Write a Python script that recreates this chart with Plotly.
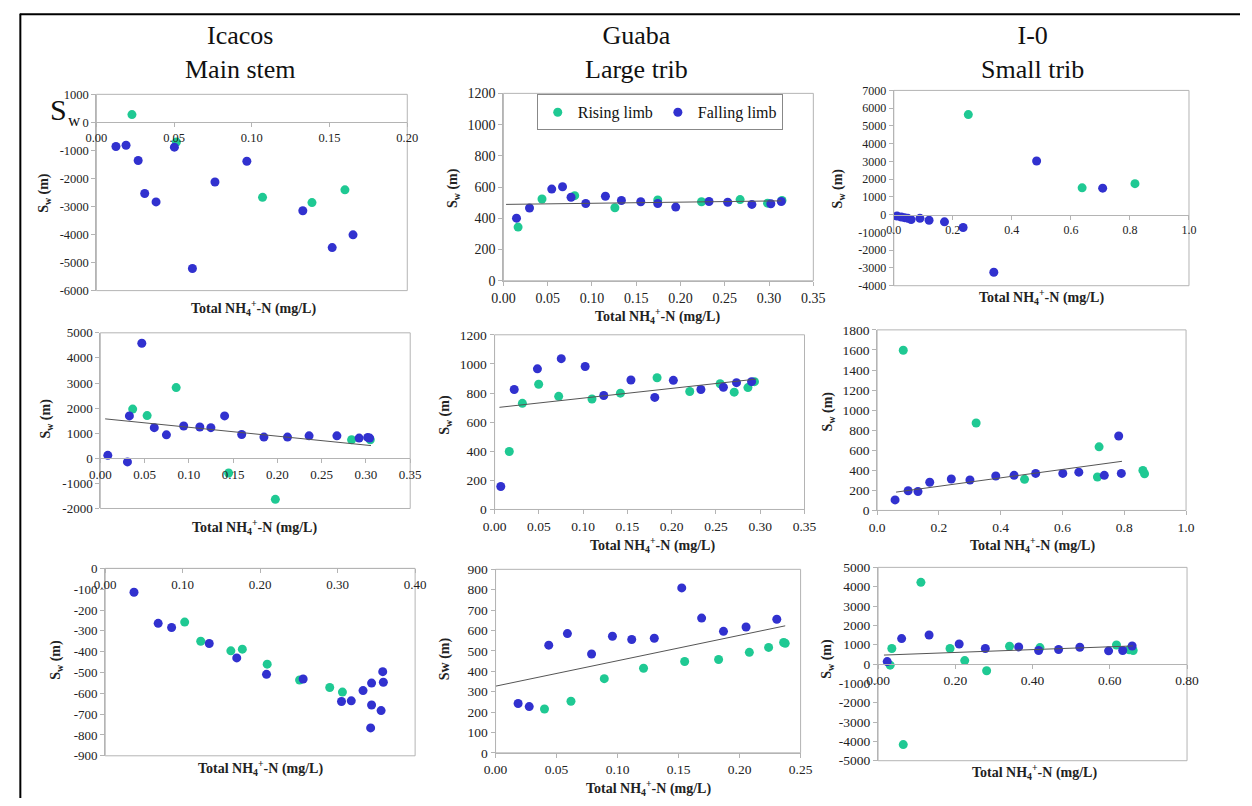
import plotly.graph_objects as go

W, H = 1252, 806

# ---------------- DATA ----------------
# Panel 1: Icacos main stem (row 1)
p1_rise_x = [0.0229, 0.0515, 0.1069, 0.1387, 0.1599]
p1_rise_y = [279, -698, -2674, -2860, -2407]
p1_fall_x = [0.0126, 0.0191, 0.0269, 0.0311, 0.0384, 0.0502, 0.0618, 0.0763, 0.0968, 0.1328, 0.1517, 0.1651]
p1_fall_y = [-860, -814, -1360, -2535, -2837, -884, -5209, -2128, -1384, -3151, -4465, -4012]

# Panel 2: Guaba large trib (row 1)
p2_rise_x = [0.0166, 0.0436, 0.0805, 0.1259, 0.1743, 0.2237, 0.2673, 0.2983, 0.3146]
p2_rise_y = [344, 524, 545, 468, 518, 506, 520, 497, 514]
p2_fall_x = [0.0148, 0.0295, 0.0546, 0.0668, 0.0764, 0.0930, 0.1152, 0.1333, 0.1551, 0.1743, 0.1946, 0.2322, 0.2533, 0.2806, 0.3020, 0.3138]
p2_fall_y = [401, 466, 587, 602, 535, 495, 541, 514, 506, 495, 472, 508, 503, 489, 493, 508]
p2_trend = (489, 73, 0.003, 0.314)  # intercept, slope, x start, x end

# Panel 3: I-0 small trib (row 1)
p3_rise_x = [0.2525, 0.638, 0.817]
p3_rise_y = [5638, 1511, 1750]
p3_fall_x = [0.011, 0.0256, 0.0365, 0.0475, 0.0588, 0.0887, 0.1196, 0.1718, 0.2349, 0.3389, 0.4839, 0.7076]
p3_fall_y = [-72, -127, -166, -204, -276, -204, -315, -403, -719, -3243, 3022, 1493]

# Panel 4: Icacos main stem (row 2)
p4_rise_x = [0.0366, 0.0529, 0.0857, 0.1449, 0.1977, 0.2838, 0.3049]
p4_rise_y = [1961, 1701, 2818, -584, -1636, 740, 740]
p4_fall_x = [0.0085, 0.0307, 0.0329, 0.0469, 0.0610, 0.0747, 0.0942, 0.1124, 0.1249, 0.1404, 0.1597, 0.1848, 0.2114, 0.2358, 0.2672, 0.2923, 0.3020, 0.3042]
p4_fall_y = [117, -143, 1688, 4584, 1221, 935, 1286, 1247, 1221, 1688, 948, 844, 844, 896, 896, 805, 831, 805]
p4_trend = (1591, -3548, 0.0055, 0.3057)

# Panel 5: Guaba large trib (row 2)
p5_rise_x = [0.0166, 0.0314, 0.0498, 0.0724, 0.1100, 0.1421, 0.1835, 0.2204, 0.2547, 0.2706, 0.2861, 0.2935]
p5_rise_y = [398, 729, 860, 777, 759, 799, 905, 810, 864, 806, 837, 878]
p5_fall_x = [0.0070, 0.0222, 0.0484, 0.0753, 0.1023, 0.1233, 0.1540, 0.1809, 0.2019, 0.2330, 0.2584, 0.2732, 0.2902]
p5_fall_y = [158, 824, 966, 1036, 982, 783, 889, 770, 887, 824, 840, 871, 878]
p5_trend = (698, 669, 0.0055, 0.2954)

# Panel 6: I-0 small trib (row 2)
p6_rise_x = [0.0847, 0.3206, 0.4772, 0.7185, 0.7132, 0.8603, 0.8656]
p6_rise_y = [1597, 872, 310, 634, 333, 399, 366]
p6_fall_x = [0.0582, 0.1005, 0.1323, 0.1704, 0.2402, 0.3005, 0.3841, 0.4434, 0.5132, 0.6011, 0.6529, 0.7354, 0.7820, 0.7905]
p6_fall_y = [105, 196, 189, 281, 314, 304, 343, 350, 369, 369, 382, 350, 742, 369]
p6_trend = (157, 420, 0.0614, 0.7926)

# Panel 7: Icacos main stem (row 3)
p7_rise_x = [0.1026, 0.1233, 0.1622, 0.1770, 0.2091, 0.2509, 0.2898, 0.3062]
p7_rise_y = [-258, -350, -396, -388, -460, -536, -572, -594]
p7_fall_x = [0.0372, 0.0684, 0.0857, 0.1343, 0.1698, 0.2082, 0.2555, 0.3050, 0.3176, 0.3328, 0.3438, 0.3438, 0.3426, 0.3561, 0.3582, 0.3590]
p7_fall_y = [-115, -264, -284, -361, -430, -509, -531, -639, -636, -587, -551, -656, -766, -683, -496, -547]

# Panel 8: Guaba large trib (row 3)
p8_rise_x = [0.0401, 0.0618, 0.0891, 0.1213, 0.1550, 0.1828, 0.2080, 0.2238, 0.2361, 0.2374]
p8_rise_y = [215, 253, 364, 415, 448, 458, 493, 517, 541, 537]
p8_fall_x = [0.0185, 0.0276, 0.0436, 0.0589, 0.0787, 0.0958, 0.1116, 0.1301, 0.1526, 0.1689, 0.1868, 0.2053, 0.2305]
p8_fall_y = [242, 227, 528, 585, 485, 572, 556, 562, 809, 661, 596, 617, 655]
p8_trend = (327, 1247, 0.0, 0.2374)

# Panel 9: I-0 small trib (row 3)
p9_rise_x = [0.0313, 0.0356, 0.0652, 0.1109, 0.1863, 0.2244, 0.2811, 0.3404, 0.4191, 0.6173, 0.6503, 0.6605]
p9_rise_y = [-59, 801, -4165, 4224, 801, 177, -346, 919, 852, 986, 733, 700]
p9_fall_x = [0.0237, 0.0610, 0.1321, 0.2100, 0.2777, 0.3641, 0.4157, 0.4674, 0.5224, 0.5969, 0.6334, 0.6579]
p9_fall_y = [126, 1315, 1500, 1037, 801, 885, 700, 750, 868, 683, 700, 936]
p9_trend = (453, 732, 0.0152, 0.660)

col_titles = ["Icacos<br>Main stem", "Guaba<br>Large trib", "I-0<br>Small trib"]
series_names = ["Rising limb", "Falling limb"]
x_title = "Total NH<sub>4</sub><sup>+</sup>-N (mg/L)"

# ---------------- LAYOUT SPEC ----------------
SERIF = "Liberation Serif"
GREEN = "#1FC993"
BLUE = "#3131CF"
GRAY = "#B4B4B4"

def fx(px):
    return px / W

def fy(py):
    return 1 - py / H

panels = [
    dict(box=(86, 89, 403, 289), xr=(0, 0.2), xd=0.05, xf="{:.2f}", yr=(-6000, 1000), yd=1000, xzero=True, tf=12.5,
         data=(p1_rise_x, p1_rise_y, p1_fall_x, p1_fall_y), trend=None, yt=(33, 189), xt=(246, 307), ytext="S<sub>w</sub> (m)"),
    dict(box=(501, 88, 817, 279), xr=(0, 0.35), xd=0.05, xf="{:.2f}", yr=(0, 1200), yd=200, xzero=False, tf=14,
         data=(p2_rise_x, p2_rise_y, p2_fall_x, p2_fall_y), trend=p2_trend, yt=(450, 184), xt=(658, 315), ytext="S<sub>w</sub> (m)"),
    dict(box=(899, 85, 1200, 284), xr=(0, 1.0), xd=0.2, xf="{:.1f}", yr=(-4000, 7000), yd=1000, xzero=True, tf=12,
         data=(p3_rise_x, p3_rise_y, p3_fall_x, p3_fall_y), trend=None, yt=(843, 185), xt=(1050, 296), ytext="S<sub>w</sub> (m)"),
    dict(box=(90, 332, 406, 511), xr=(0, 0.35), xd=0.05, xf="{:.2f}", yr=(-2000, 5000), yd=1000, xzero=True, tf=13,
         data=(p4_rise_x, p4_rise_y, p4_fall_x, p4_fall_y), trend=p4_trend, yt=(35, 419), xt=(247, 530), ytext="S<sub>w</sub> (m)"),
    dict(box=(492, 334, 808, 512), xr=(0, 0.35), xd=0.05, xf="{:.2f}", yr=(0, 1200), yd=200, xzero=False, tf=13.5,
         data=(p5_rise_x, p5_rise_y, p5_fall_x, p5_fall_y), trend=p5_trend, yt=(442, 416), xt=(653, 548), ytext="S<sub>w</sub> (m)"),
    dict(box=(882, 329, 1197, 513), xr=(0, 1.0), xd=0.2, xf="{:.1f}", yr=(0, 1800), yd=200, xzero=False, tf=13.5,
         data=(p6_rise_x, p6_rise_y, p6_fall_x, p6_fall_y), trend=p6_trend, yt=(832, 412), xt=(1040, 548), ytext="S<sub>w</sub> (m)"),
    dict(box=(95, 572, 411, 763), xr=(0, 0.4), xd=0.1, xf="{:.2f}", yr=(-900, 0), yd=100, xzero=True, tf=13,
         data=(p7_rise_x, p7_rise_y, p7_fall_x, p7_fall_y), trend=None, yt=(46, 665), xt=(253, 775), ytext="S<sub>w</sub> (m)"),
    dict(box=(493, 573, 804, 760), xr=(0, 0.25), xd=0.05, xf="{:.2f}", yr=(0, 900), yd=100, xzero=False, tf=13.5,
         data=(p8_rise_x, p8_rise_y, p8_fall_x, p8_fall_y), trend=p8_trend, yt=(441, 664), xt=(649, 796), ytext="Sw (m)"),
    dict(box=(883, 571, 1198, 768), xr=(0, 0.8), xd=0.2, xf="{:.2f}", yr=(-5000, 5000), yd=1000, xzero=True, tf=13.5,
         data=(p9_rise_x, p9_rise_y, p9_fall_x, p9_fall_y), trend=p9_trend, yt=(832, 664), xt=(1042, 779), ytext="S<sub>w</sub> (m)"),
]

fig = go.Figure()
shapes = []
annotations = []

for i, p in enumerate(panels):
    n = i + 1
    xa = "x" if n == 1 else f"x{n}"
    ya = "y" if n == 1 else f"y{n}"
    l, t, r, b = p["box"]
    xdom = [fx(l), fx(r)]
    ydom = [fy(b), fy(t)]
    rx, ry, fxs, fys = p["data"]

    fig.add_trace(go.Scatter(x=rx, y=ry, mode="markers", name=series_names[0],
                             marker=dict(color=GREEN, size=9), xaxis=xa, yaxis=ya,
                             showlegend=(n == 2), legendrank=1))
    fig.add_trace(go.Scatter(x=fxs, y=fys, mode="markers", name=series_names[1],
                             marker=dict(color=BLUE, size=9), xaxis=xa, yaxis=ya,
                             showlegend=(n == 2), legendrank=2))
    if p["trend"] is not None:
        a, s, x0, x1 = p["trend"]
        fig.add_trace(go.Scatter(x=[x0, x1], y=[a + s * x0, a + s * x1], mode="lines",
                                 line=dict(color="#555555", width=1), xaxis=xa, yaxis=ya,
                                 showlegend=False, hoverinfo="skip"))

    xvals = []
    v = p["xr"][0]
    while v <= p["xr"][1] + 1e-9:
        xvals.append(round(v, 4))
        v += p["xd"]
    yvals = list(range(p["yr"][0], p["yr"][1] + 1, p["yd"]))

    tickfont = dict(family=SERIF, size=p["tf"], color="#222222")
    xaxis = dict(domain=xdom, range=list(p["xr"]), tickvals=xvals,
                 ticktext=[p["xf"].format(v) for v in xvals],
                 showgrid=False, zeroline=False, showline=True, linecolor=GRAY, linewidth=1,
                 ticks="outside", ticklen=4, tickcolor=GRAY, tickfont=tickfont,
                 fixedrange=True)
    if p["xzero"]:
        ymin, ymax = p["yr"]
        pos = ydom[0] + (0 - ymin) / (ymax - ymin) * (ydom[1] - ydom[0])
        xaxis.update(anchor="free", position=pos)
    else:
        xaxis.update(anchor=ya)
    yaxis = dict(domain=ydom, range=list(p["yr"]), tickvals=yvals,
                 ticktext=[str(v) for v in yvals], anchor=xa,
                 showgrid=False, zeroline=False, showline=True, linecolor=GRAY, linewidth=1,
                 ticks="outside", ticklen=4, tickcolor=GRAY, tickfont=tickfont,
                 fixedrange=True)
    fig.layout[f"xaxis{'' if n == 1 else n}"] = xaxis
    fig.layout[f"yaxis{'' if n == 1 else n}"] = yaxis

    shapes.append(dict(type="rect", xref=f"{xa} domain", yref=f"{ya} domain",
                       x0=0, x1=1, y0=0, y1=1, line=dict(color=GRAY, width=1), layer="below"))

    annotations.append(dict(text=f"<b>{p['ytext']}</b>", x=fx(p["yt"][0]), y=fy(p["yt"][1]),
                            xref="paper", yref="paper", showarrow=False, textangle=-90,
                            xanchor="center", yanchor="middle",
                            font=dict(family=SERIF, size=14, color="#222222")))
    annotations.append(dict(text=f"<b>{x_title}</b>", x=fx(p["xt"][0]), y=fy(p["xt"][1]),
                            xref="paper", yref="paper", showarrow=False,
                            xanchor="center", yanchor="middle",
                            font=dict(family=SERIF, size=14, color="#222222")))

# column titles
for cx, txt in zip([233, 637, 1040], col_titles):
    annotations.append(dict(text=txt, x=fx(cx), y=fy(46), xref="paper", yref="paper",
                            showarrow=False, xanchor="center", yanchor="middle",
                            font=dict(family=SERIF, size=26, color="#111111")))

# stray large "S_w" label in first panel
annotations.append(dict(text="S", x=fx(37), y=fy(104), xref="paper", yref="paper",
                        showarrow=False, xanchor="left", yanchor="middle",
                        font=dict(family=SERIF, size=30, color="#111111")))
annotations.append(dict(text="w", x=fx(55), y=fy(116), xref="paper", yref="paper",
                        showarrow=False, xanchor="left", yanchor="middle",
                        font=dict(family=SERIF, size=17, color="#111111")))

# outer frame (top and left edges visible)
shapes.append(dict(type="line", xref="paper", yref="paper", x0=fx(8), x1=1, y0=fy(7.5), y1=fy(7.5),
                   line=dict(color="black", width=2)))
shapes.append(dict(type="line", xref="paper", yref="paper", x0=fx(8.5), x1=fx(8.5), y0=fy(7), y1=0,
                   line=dict(color="black", width=2)))

fig.update_layout(
    width=W, height=H,
    margin=dict(l=0, r=0, t=0, b=0),
    paper_bgcolor="white", plot_bgcolor="white",
    shapes=shapes, annotations=annotations,
    legend=dict(orientation="h", x=fx(535), y=fy(89), xanchor="left", yanchor="top",
                bgcolor="white", bordercolor="#888888", borderwidth=1,
                font=dict(family=SERIF, size=16, color="#111111"),
                traceorder="normal"),
    showlegend=True,
)

fig.write_html("out.html")
